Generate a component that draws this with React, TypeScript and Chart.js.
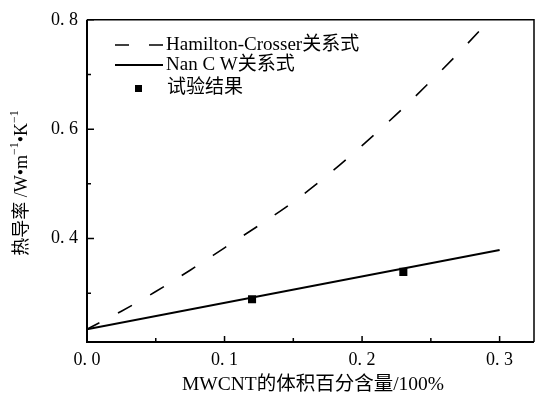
import { useEffect, useRef } from 'react';
import { Chart, registerables } from 'chart.js';

Chart.register(...registerables);

// Hamilton-Crosser model curve
const hcX = [0, 0.025, 0.05, 0.075, 0.1, 0.125, 0.15, 0.175, 0.2, 0.225, 0.25, 0.275, 0.3];
const hcY = [0.234, 0.267, 0.303, 0.342, 0.383, 0.424, 0.467, 0.516, 0.57, 0.627, 0.688, 0.752, 0.82];
// Nan C W model line
const nanX = [0, 0.3];
const nanY = [0.234, 0.379];
// experimental results
const expX = [0.12, 0.23];
const expY = [0.289, 0.339];

const xMajor = [0, 0.1, 0.2, 0.3];
const xMinor = [0.05, 0.15, 0.25];
const yMajor = [0.4, 0.6, 0.8];
const yMinor = [0.3, 0.5, 0.7];

const legendLabels = ['Hamilton-Crosser关系式', 'Nan C W关系式', '试验结果'];
const xTitle = 'MWCNT的体积百分含量/100%';
const yTitleParts: [string, boolean][] = [
  ['热导率 /W•m', false],
  ['−1', true],
  ['•K', false],
  ['−1', true],
];

const FAMILY = "'Liberation Serif', 'Times New Roman', 'Noto Sans CJK SC', serif";

const fmt = (v: number) => Number(v).toFixed(1).replace('.', '. ');

const decorPlugin = {
  id: 'decor',
  afterDraw(chart: any) {
    const ctx = chart.ctx as CanvasRenderingContext2D;
    const { left, right, top, bottom } = chart.chartArea;
    const xs = chart.scales.x;
    const ys = chart.scales.y;
    ctx.save();
    ctx.strokeStyle = '#000';
    ctx.fillStyle = '#000';
    // frame
    ctx.lineWidth = 1.5;
    ctx.beginPath();
    ctx.moveTo(left, top);
    ctx.lineTo(right, top);
    ctx.lineTo(right, bottom);
    ctx.stroke();
    ctx.lineWidth = 2;
    ctx.beginPath();
    ctx.moveTo(left, top);
    ctx.lineTo(left, bottom);
    ctx.lineTo(right, bottom);
    ctx.stroke();
    // inward ticks
    ctx.lineWidth = 1.5;
    ctx.beginPath();
    xMajor.forEach((v) => {
      const px = xs.getPixelForValue(v);
      ctx.moveTo(px, bottom);
      ctx.lineTo(px, bottom - 6);
    });
    xMinor.forEach((v) => {
      const px = xs.getPixelForValue(v);
      ctx.moveTo(px, bottom);
      ctx.lineTo(px, bottom - 4);
    });
    yMajor.forEach((v) => {
      const py = ys.getPixelForValue(v);
      ctx.moveTo(left, py);
      ctx.lineTo(left + 7, py);
    });
    yMinor.forEach((v) => {
      const py = ys.getPixelForValue(v);
      ctx.moveTo(left, py);
      ctx.lineTo(left + 4, py);
    });
    ctx.stroke();

    // legend
    ctx.font = `19px ${FAMILY}`;
    ctx.textBaseline = 'middle';
    ctx.textAlign = 'left';
    ctx.lineWidth = 1.5;
    ctx.setLineDash([14, 20]);
    ctx.beginPath();
    ctx.moveTo(115, 45);
    ctx.lineTo(163, 45);
    ctx.stroke();
    ctx.setLineDash([]);
    ctx.lineWidth = 2;
    ctx.beginPath();
    ctx.moveTo(115, 65);
    ctx.lineTo(163, 65);
    ctx.stroke();
    ctx.fillRect(135, 85, 7, 7);
    ctx.fillText(legendLabels[0], 166, 45);
    ctx.fillText(legendLabels[1], 166, 65);
    ctx.fillText(legendLabels[2], 167, 88);

    // x title
    ctx.font = `19.5px ${FAMILY}`;
    ctx.textAlign = 'center';
    ctx.fillText(xTitle, 313, 385);

    // y title with superscripts
    ctx.translate(22, 183);
    ctx.rotate(-Math.PI / 2);
    const mainFont = `18px ${FAMILY}`;
    const supFont = `12px ${FAMILY}`;
    let total = 0;
    yTitleParts.forEach(([t, sup]) => {
      ctx.font = sup ? supFont : mainFont;
      total += ctx.measureText(t).width;
    });
    let cx = -total / 2;
    ctx.textAlign = 'left';
    yTitleParts.forEach(([t, sup]) => {
      ctx.font = sup ? supFont : mainFont;
      ctx.fillText(t, cx, sup ? -7 : 0);
      cx += ctx.measureText(t).width;
    });
    ctx.restore();
  },
};

export default function App() {
  const ref = useRef<HTMLCanvasElement | null>(null);
  useEffect(() => {
    if (!ref.current) return;
    const chart = new Chart(ref.current, {
      type: 'line',
      data: {
        datasets: [
          {
            label: 'Hamilton-Crosser关系式',
            data: hcX.map((x, i) => ({ x, y: hcY[i] })),
            borderColor: '#000',
            borderWidth: 1.6,
            borderDash: [16, 21],
            borderDashOffset: 2,
            cubicInterpolationMode: 'monotone',
            pointRadius: 0,
            fill: false,
          },
          {
            label: 'Nan C W关系式',
            data: nanX.map((x, i) => ({ x, y: nanY[i] })),
            borderColor: '#000',
            borderWidth: 2,
            pointRadius: 0,
            fill: false,
          },
          {
            label: '试验结果',
            data: expX.map((x, i) => ({ x, y: expY[i] })),
            showLine: false,
            pointStyle: 'rect',
            pointRadius: 5.7,
            pointBorderWidth: 0,
            pointBackgroundColor: '#000',
            borderColor: '#000',
          },
        ],
      },
      options: {
        animation: false,
        responsive: false,
        layout: { padding: { top: 13, right: 10, left: 0, bottom: 0 } },
        plugins: { legend: { display: false }, tooltip: { enabled: false } },
        scales: {
          x: {
            type: 'linear',
            min: 0,
            max: 0.325,
            grid: { display: false, drawTicks: false },
            border: { display: false },
            ticks: {
              color: '#000',
              padding: 7,
              font: { size: 18, family: FAMILY },
              callback: (v: any) => fmt(v),
            },
            afterBuildTicks: (s: any) => {
              s.ticks = xMajor.map((v) => ({ value: v }));
            },
            afterFit: (s: any) => {
              s.height = 60;
            },
          },
          y: {
            type: 'linear',
            min: 0.2107,
            max: 0.8,
            grid: { display: false, drawTicks: false },
            border: { display: false },
            ticks: {
              color: '#000',
              padding: 9,
              font: { size: 18, family: FAMILY },
              callback: (v: any) => fmt(v),
            },
            afterBuildTicks: (s: any) => {
              s.ticks = yMajor.map((v) => ({ value: v }));
            },
            afterFit: (s: any) => {
              s.width = 87;
            },
          },
        },
      },
      plugins: [decorPlugin],
    } as any);
    return () => chart.destroy();
  }, []);
  return (
    <div style={{ position: 'absolute', left: 0, top: 0, width: 544, height: 402, background: '#fff' }}>
      <canvas ref={ref} width={544} height={402} style={{ display: 'block' }} />
    </div>
  );
}
